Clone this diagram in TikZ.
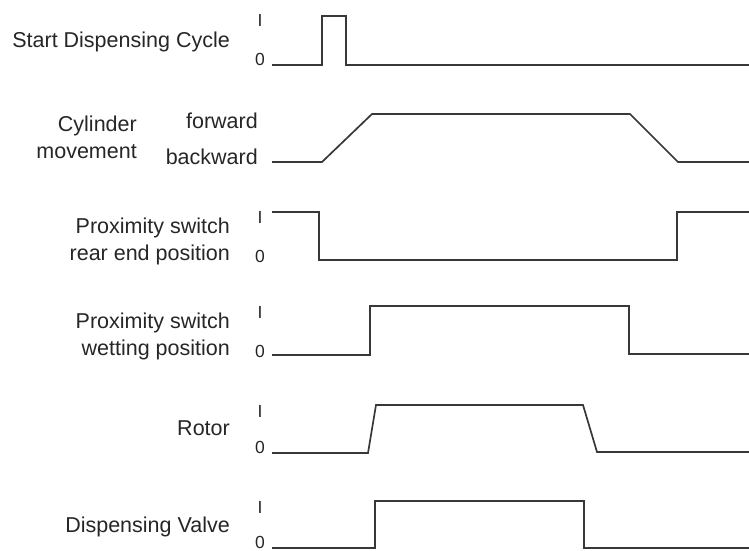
\documentclass[tikz,border=0pt]{standalone}
\usepackage{fontspec}
\setmainfont{Liberation Sans}
\begin{document}
\begin{tikzpicture}[x=1pt,y=-1pt,
  lbl/.style={anchor=base east,inner sep=0pt,font=\fontsize{21.5}{24}\selectfont,text=black!85},
  lvl/.style={anchor=base,inner sep=0pt,font=\fontsize{17.5}{18}\selectfont,text=black!85},
  wave/.style={line width=1.7pt,draw=black!78,line join=miter}]
\useasboundingbox (0,0) rectangle (749,551);
% labels
\node[lbl] (l1) at (230,48) {Start Dispensing Cycle};
\node[lbl] (l2a) at (137,131) {Cylinder};
\node[lbl] (l2b) at (137,158) {movement};
\node[lbl] (l3a) at (230,233) {Proximity switch};
\node[lbl] (l3b) at (230,260) {rear end position};
\node[lbl] (l4a) at (230,328) {Proximity switch};
\node[lbl] (l4b) at (230,355) {wetting position};
\node[lbl] (l5) at (230,435) {Rotor};
\node[lbl] (l6) at (230,532) {Dispensing Valve};
% level labels
\node[lvl] (i1) at (260,27) {I};
\node[lvl] (o1) at (260,66) {0};
\node[lbl] (fw) at (258,128) {forward};
\node[lbl] (bw) at (258,164) {backward};
\node[lvl] (i3) at (260,223) {I};
\node[lvl] (o3) at (260,262) {0};
\node[lvl] (i4) at (260,318) {I};
\node[lvl] (o4) at (260,357) {0};
\node[lvl] (i5) at (260,417) {I};
\node[lvl] (o5) at (260,453) {0};
\node[lvl] (i6) at (260,513) {I};
\node[lvl] (o6) at (260,548) {0};
% waveforms
\draw[wave] (272,65) -- (322,65) -- (322,16) -- (346,16) -- (346,65) -- (749,65);
\draw[wave] (272,162) -- (322,162) -- (372,114) -- (630,114) -- (678,162) -- (749,162);
\draw[wave] (272,212) -- (319,212) -- (319,260) -- (677,260) -- (677,212) -- (749,212);
\draw[wave] (272,355) -- (370,355) -- (370,306) -- (629,306) -- (629,354) -- (749,354);
\draw[wave] (272,453) -- (368,453) -- (376,405) -- (583,405) -- (597,452) -- (749,452);
\draw[wave] (272,548) -- (375,548) -- (375,501) -- (584,501) -- (584,548) -- (749,548);
\end{tikzpicture}
\end{document}
